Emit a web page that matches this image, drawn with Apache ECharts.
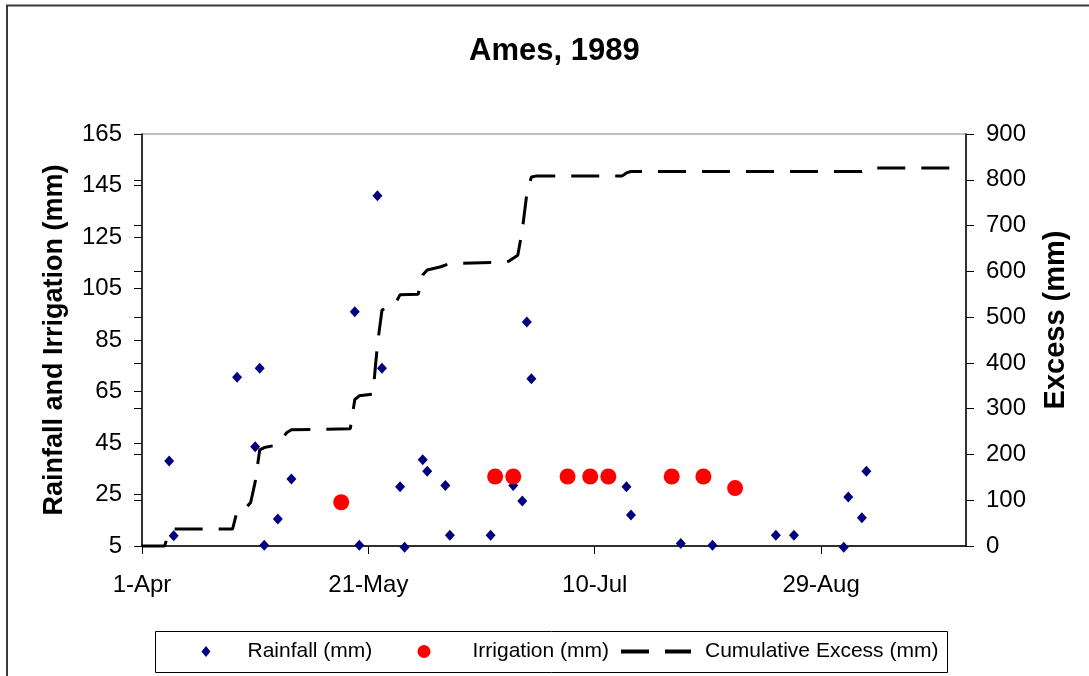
<!DOCTYPE html>
<html><head><meta charset="utf-8">
<script src="https://cdn.jsdelivr.net/npm/echarts@6/dist/echarts.min.js"></script>
<style>html,body{margin:0;padding:0;background:#fff}#c{width:1089px;height:676px}</style>
</head><body><div id="c"></div>
<script>
const titleText = 'Ames, 1989';
const seasonStart = '1989-04-01';
const seasonEnd = '1989-09-30';
const monthNames = ['Jan','Feb','Mar','Apr','May','Jun','Jul','Aug','Sep','Oct','Nov','Dec'];

const rainDates = ['1989-04-07','1989-04-08','1989-04-22','1989-04-26','1989-04-27','1989-04-28','1989-05-01','1989-05-04',
  '1989-05-18','1989-05-19','1989-05-23','1989-05-24','1989-05-28','1989-05-29','1989-06-02','1989-06-03','1989-06-07',
  '1989-06-08','1989-06-17','1989-06-22','1989-06-24','1989-06-25','1989-06-26','1989-07-17','1989-07-18','1989-07-29',
  '1989-08-05','1989-08-19','1989-08-23','1989-09-03','1989-09-04','1989-09-07','1989-09-08'];
const rainValues = [38, 9, 70.5, 43.5, 74, 5.3, 15.5, 31,
  96, 5.3, 141, 74, 28, 4.5, 38.5, 34, 28.5,
  9.2, 9.2, 28.5, 22.5, 92, 70, 28, 17, 6,
  5.3, 9.2, 9.2, 4.5, 24, 16, 34];

const irrDates = ['1989-05-15','1989-06-18','1989-06-22','1989-07-04','1989-07-09','1989-07-13','1989-07-27','1989-08-03','1989-08-10'];
const irrValues = [22, 32, 32, 32, 32, 32, 32, 32, 27.5];

const excessDates = ['1989-04-01','1989-04-06','1989-04-07','1989-04-08','1989-04-21','1989-04-22','1989-04-24','1989-04-25',
  '1989-04-26','1989-04-27','1989-04-28','1989-04-30','1989-05-02','1989-05-03','1989-05-04','1989-05-17','1989-05-18',
  '1989-05-19','1989-05-22','1989-05-23','1989-05-24','1989-05-25','1989-05-27','1989-05-28','1989-06-01','1989-06-02',
  '1989-06-03','1989-06-06','1989-06-08','1989-06-20','1989-06-21','1989-06-23','1989-06-24','1989-06-25','1989-06-26',
  '1989-06-27','1989-07-16','1989-07-17','1989-07-18','1989-09-07','1989-09-08','1989-09-09','1989-09-27'];
const excessValues = [0, 0, 32, 37, 37, 76, 84, 95,
  140, 210, 215, 219, 235, 248, 254, 256, 320,
  328, 332, 440, 515, 522, 530, 549, 550, 592,
  603, 610, 617, 620, 622, 635, 690, 770, 806,
  808, 808, 815, 818, 818, 823, 826, 826];

const base = Date.parse(seasonStart + 'T00:00:00Z');
const dayOf = s => Math.round((Date.parse(s + 'T00:00:00Z') - base) / 86400000);
const dayLabel = d => { const t = new Date(base + d * 86400000); return t.getUTCDate() + '-' + monthNames[t.getUTCMonth()]; };
const pairs = (ds, vs) => ds.map((d, i) => [dayOf(d), vs[i]]);

const FONT = "'Liberation Sans', Arial, sans-serif";
const legendText = {fontFamily: FONT, fontSize: 21, color: '#000'};
const chart = echarts.init(document.getElementById('c'), null, {renderer: 'canvas'});
chart.setOption({
  animation: false,
  backgroundColor: '#fff',
  textStyle: {fontFamily: FONT, color: '#000'},
  graphic: [
    {type: 'rect', shape: {x: 7, y: 5.5, width: 1200, height: 800}, style: {fill: 'none', stroke: '#3a3a3a', lineWidth: 2}, silent: true, z: -1},
    {type: 'rect', shape: {x: 155.5, y: 631.5, width: 792, height: 41}, style: {fill: '#fff', stroke: '#000', lineWidth: 1}, silent: true, z: 0}
  ],
  title: {text: titleText, left: 464, top: 31, textStyle: {fontFamily: FONT, fontSize: 31, fontWeight: 'bold', color: '#000'}},
  legend: [{
    left: 201.5, top: 641, padding: 0, itemWidth: 9, itemHeight: 11, z: 5,
    textStyle: Object.assign({padding: [0, 0, 0, 32]}, legendText),
    data: [{name: 'Rainfall (mm)', icon: 'diamond'}]
  }, {
    left: 417.5, top: 641, padding: 0, itemWidth: 13, itemHeight: 13, z: 5,
    textStyle: Object.assign({padding: [0, 0, 0, 37]}, legendText),
    data: [{name: 'Irrigation (mm)', icon: 'circle'}]
  }, {
    left: 619, top: 641, padding: 0, itemWidth: 70, itemHeight: 12, z: 5,
    textStyle: Object.assign({padding: [0, 0, 0, 9]}, legendText),
    data: [{name: 'Cumulative Excess (mm)', itemStyle: {opacity: 0}, lineStyle: {width: 4}}]
  }],
  grid: {left: 142, right: 123, top: 134, bottom: 130, show: true, borderColor: '#808080', borderWidth: 1},
  xAxis: {
    type: 'value', min: 0, max: dayOf(seasonEnd), interval: 50,
    axisLine: {show: true, onZero: false, lineStyle: {color: '#000', width: 1.5}},
    axisTick: {show: true, inside: false, length: 8, lineStyle: {color: '#000', width: 1}},
    axisLabel: {fontFamily: FONT, fontSize: 24, color: '#000', margin: 27, formatter: v => dayLabel(v), showMaxLabel: false},
    splitLine: {show: false}
  },
  yAxis: [{
    type: 'value', position: 'left', min: 5, max: 165, interval: 20,
    name: 'Rainfall and Irrigation (mm)', nameLocation: 'middle', nameRotate: 90, nameGap: 74,
    nameTextStyle: {fontFamily: FONT, fontSize: 27, fontWeight: 'bold', color: '#000'},
    axisLine: {show: true, onZero: false, lineStyle: {color: '#000', width: 1.5}},
    axisTick: {show: true, inside: false, length: 8, lineStyle: {color: '#000', width: 1}},
    axisLabel: {fontFamily: FONT, fontSize: 24, color: '#000', margin: 20},
    splitLine: {show: false}
  }, {
    type: 'value', position: 'right', min: 0, max: 900, interval: 100,
    name: 'Excess (mm)', nameLocation: 'middle', nameRotate: 90, nameGap: 75,
    nameTextStyle: {fontFamily: FONT, fontSize: 29, fontWeight: 'bold', color: '#000', padding: [0, 0, 0, 40]},
    axisLine: {show: true, onZero: false, lineStyle: {color: '#000', width: 1.5}},
    axisTick: {show: true, inside: false, length: 8, lineStyle: {color: '#000', width: 1}},
    axisLabel: {fontFamily: FONT, fontSize: 24, color: '#000', margin: 20},
    splitLine: {show: false}
  }, {
    type: 'value', position: 'right', min: 0, max: 900, interval: 100,
    axisLine: {show: false}, axisLabel: {show: false}, splitLine: {show: false},
    axisTick: {show: true, inside: true, length: 8, lineStyle: {color: '#000', width: 1}}
  }],
  series: [{
    name: 'Rainfall (mm)', type: 'scatter', yAxisIndex: 0, symbol: 'diamond', symbolSize: [10, 11], clip: false,
    itemStyle: {color: '#000080', opacity: 1}, data: pairs(rainDates, rainValues), z: 3
  }, {
    name: 'Irrigation (mm)', type: 'scatter', yAxisIndex: 0, symbol: 'circle', symbolSize: 16, clip: false,
    itemStyle: {color: '#ff0000', opacity: 1}, data: pairs(irrDates, irrValues), z: 4
  }, {
    name: 'Cumulative Excess (mm)', type: 'line', yAxisIndex: 1, symbol: 'none', showSymbol: false, clip: false,
    lineStyle: {color: '#000', width: 3, type: [28, 16]}, itemStyle: {color: '#000'},
    data: pairs(excessDates, excessValues), z: 2
  }]
});
</script></body></html>
